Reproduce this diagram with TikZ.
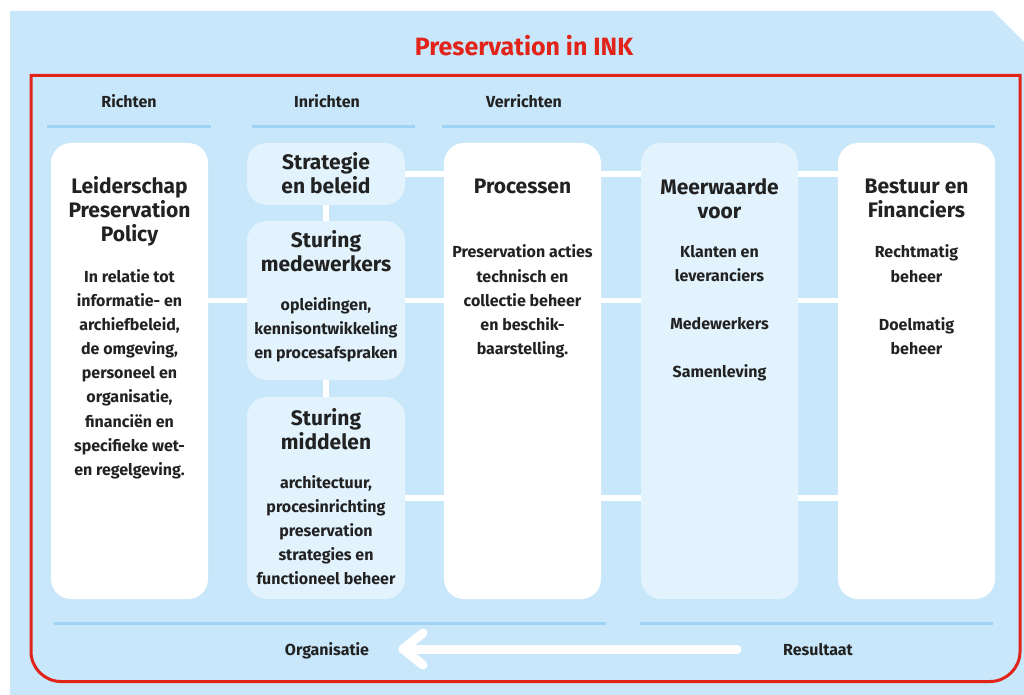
\documentclass[tikz,border=0pt]{standalone}
\usepackage{fontspec}
\setmainfont{Fira Sans}
\usetikzlibrary{fit,calc}
\definecolor{bgblue}{HTML}{C8E7FA}
\definecolor{lightbox}{HTML}{E2F3FD}
\definecolor{ruleblue}{HTML}{9FD3F5}
\definecolor{inkred}{HTML}{E2231A}
\definecolor{txt}{HTML}{222222}
\begin{document}
\begin{tikzpicture}[x=1pt,y=-1pt,
  wbox/.style={fill=white, rounded corners=20pt, inner sep=0pt},
  lbox/.style={fill=lightbox, rounded corners=20pt, inner sep=0pt},
  conn/.style={white, line width=5.5pt},
  hrule/.style={ruleblue, line width=3pt},
  arrowline/.style={white, line width=9pt, line cap=round, line join=round},
  ttl/.style={font=\bfseries\fontsize{21}{24}\selectfont, text=txt, align=center, anchor=north, inner sep=0pt, execute at begin node=\strut},
  bdy/.style={font=\bfseries\fontsize{16}{24.1}\selectfont, text=txt, align=center, anchor=north, inner sep=0pt, execute at begin node=\strut},
  hdr/.style={font=\bfseries\fontsize{16}{19}\selectfont, text=txt, anchor=base, inner sep=0pt},
]
\useasboundingbox (0,0) rectangle (1024,695);
\fill[bgblue] (10,11) -- (993,11) -- (1024,42) -- (1024,695) -- (10,695) -- cycle;
\draw[inkred, line width=3pt] (31,75.5) -- (1020,75.5) -- (1020,651.5)
  .. controls (1020,668) and (1006.5,681.5) .. (990,681.5) -- (61,681.5)
  .. controls (44.5,681.5) and (31,668) .. (31,651.5) -- cycle;
\node[font=\bfseries\fontsize{25}{30}\selectfont, text=inkred, anchor=base, inner sep=0pt] (title) at (524,55.5) {Preservation in INK};
% headers
\node[hdr] (h1) at (129,107.5) {Richten};
\node[hdr] (h2) at (327,107.5) {Inrichten};
\node[hdr] (h3) at (524,107.5) {Verrichten};
\draw[hrule] (47,127) -- (211,127);
\draw[hrule] (252,127) -- (415,127);
\draw[hrule] (442,127) -- (995,127);
% boxes
\node[wbox, fit={(51,143)(208,599)}] (lead) {};
\node[lbox, fit={(247,143)(405,205)}] (strat) {};
\node[lbox, fit={(247,221)(405,380)}] (stmw) {};
\node[lbox, fit={(247,397)(405,599)}] (stmd) {};
\node[wbox, fit={(444,143)(601,599)}] (proc) {};
\node[lbox, fit={(641,143)(798,599)}] (meer) {};
\node[wbox, fit={(838,143)(995,599)}] (best) {};
% connectors
\draw[conn] (strat.south) -- (stmw.north);
\draw[conn] (stmw.south) -- (stmd.north);
\draw[conn] (strat.east) -- (strat.east -| proc.west);
\draw[conn] (proc.east |- strat.east) -- (meer.west |- strat.east);
\draw[conn] (meer.east |- strat.east) -- (best.west |- strat.east);
\draw[conn] (lead.east |- stmw.west) -- (stmw.west);
\draw[conn] (stmw.east) -- (proc.west |- stmw.east);
\draw[conn] (proc.east |- stmw.east) -- (meer.west |- stmw.east);
\draw[conn] (meer.east |- stmw.east) -- (best.west |- stmw.east);
\draw[conn] (stmd.east) -- (proc.west |- stmd.east);
\draw[conn] (proc.east |- stmd.east) -- (meer.west |- stmd.east);
\draw[conn] (meer.east |- stmd.east) -- (best.west |- stmd.east);
% texts
\node[ttl] (leadT) at (lead.north |- 0,176.2) {Leiderschap\\Preservation\\Policy};
\node[bdy] (leadB) at (lead.north |- 0,269.3) {In relatie tot\\informatie- en\\archiefbeleid,\\de omgeving,\\personeel en\\organisatie,\\financiën en\\specifieke wet-\\en regelgeving.};
\node[ttl] (stratT) at (strat.north |- 0,152) {Strategie\\en beleid};
\node[ttl] (stmwT) at (stmw.north |- 0,230.5) {Sturing\\medewerkers};
\node[bdy] (stmwB) at (stmw.north |- 0,297.5) {opleidingen,\\kennisontwikkeling\\en procesafspraken};
\node[ttl] (stmdT) at (stmd.north |- 0,408) {Sturing\\middelen};
\node[bdy] (stmdB) at (stmd.north |- 0,475.3) {architectuur,\\procesinrichting\\preservation\\strategies en\\functioneel beheer};
\node[ttl] (procT) at (proc.north |- 0,176.2) {Processen};
\node[bdy] (procB) at (proc.north |- 0,244.8) {Preservation acties\\technisch en\\collectie beheer\\en beschik-\\baarstelling.};
\node[ttl] (meerT) at (meer.north |- 0,178.2) {Meerwaarde\\voor};
\node[bdy] (meerB) at (meer.north |- 0,244.8) {Klanten en\\leveranciers\\[24.1pt]Medewerkers\\[24.1pt]Samenleving};
\node[ttl] (bestT) at (best.north |- 0,179) {Bestuur en\\Financiers};
\node[bdy] (bestB) at (best.north |- 0,244.8) {Rechtmatig\\beheer\\[24.1pt]Doelmatig\\beheer};
% bottom
\draw[hrule] (54,623) -- (606,623);
\draw[hrule] (640,623) -- (993,623);
\node[hdr] (org) at (327,655.5) {Organisatie};
\node[hdr] (res) at (818,655.5) {Resultaat};
\coordinate (aS) at (737,649);
\coordinate (aE) at (403,649);
\draw[arrowline] (aS) -- (aE);
\draw[arrowline] ($(aE)+(20,-16)$) -- (aE) -- ($(aE)+(20,16)$);
\end{tikzpicture}
\end{document}
